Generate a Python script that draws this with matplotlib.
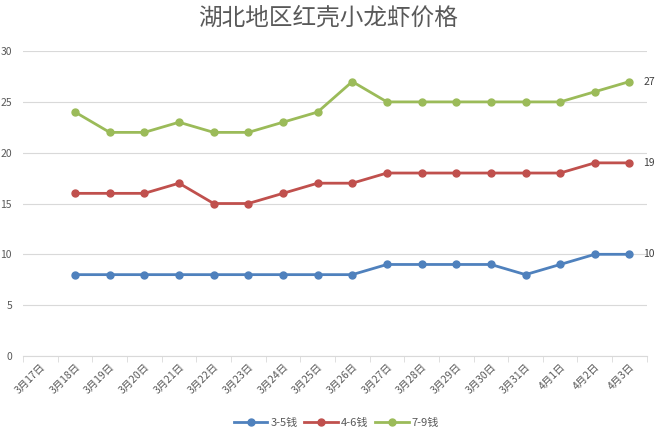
import matplotlib
matplotlib.use("Agg")
import matplotlib.pyplot as plt
import numpy as np

plt.rcParams['font.family'] = ['Noto Sans CJK SC', 'DejaVu Sans']

categories = ['3月17日', '3月18日', '3月19日', '3月20日', '3月21日', '3月22日', '3月23日',
              '3月24日', '3月25日', '3月26日', '3月27日', '3月28日', '3月29日', '3月30日',
              '3月31日', '4月1日', '4月2日', '4月3日']
s35 = [None, 8, 8, 8, 8, 8, 8, 8, 8, 8, 9, 9, 9, 9, 8, 9, 10, 10]
s46 = [None, 16, 16, 16, 17, 15, 15, 16, 17, 17, 18, 18, 18, 18, 18, 18, 19, 19]
s79 = [None, 24, 22, 22, 23, 22, 22, 23, 24, 27, 25, 25, 25, 25, 25, 25, 26, 27]
series_names = ['3-5钱', '4-6钱', '7-9钱']
colors = ['#4F81BD', '#C0504D', '#9BBB59']
title = '湖北地区红壳小龙虾价格'
yticks = [0, 5, 10, 15, 20, 25, 30]

fig = plt.figure(figsize=(6.6, 4.33), dpi=100)
ax = fig.add_axes([0.035, 0.178, 0.945, 0.704])

x = np.arange(len(categories))
for vals, name, c in zip([s35, s46, s79], series_names, colors):
    v = np.array([np.nan if a is None else a for a in vals], dtype=float)
    ax.plot(x, v, color=c, lw=2.0, marker='o', markersize=5, label=name,
            solid_joinstyle='round', zorder=3)
    ax.annotate(str(vals[-1]), (x[-1], vals[-1]), xytext=(10, 0),
                textcoords='offset points', ha='left', va='center',
                fontsize=7.5, color='#404040')

ax.set_xlim(-0.5, len(categories) - 0.5)
ax.set_ylim(0, 30)
ax.set_yticks(yticks)
ax.set_yticklabels([str(t) for t in yticks], fontsize=7.5, color='#595959')
ax.tick_params(axis='y', length=0, pad=8)
ax.grid(axis='y', color='#D9D9D9', lw=0.8)
ax.set_axisbelow(True)

ax.set_xticks(x)
ax.set_xticklabels(categories, rotation=45, ha='right', va='top',
                   rotation_mode='anchor', fontsize=7.5, color='#595959')
ax.tick_params(axis='x', which='major', length=0, pad=4)
ax.set_xticks(np.arange(-0.5, len(categories)), minor=True)
ax.tick_params(axis='x', which='minor', length=4, color='#D9D9D9')

for s in ['top', 'right', 'left']:
    ax.spines[s].set_visible(False)
ax.spines['bottom'].set_color('#D9D9D9')

fig.text(0.497, 0.958, title, ha='center', va='center', fontsize=17, color='#595959')

fig.legend(loc='center', bbox_to_anchor=(0.51, 0.023), ncol=3, frameon=False,
           fontsize=8, handlelength=3, columnspacing=0.6, handletextpad=0.3,
           labelcolor='#595959')

fig.savefig('out.png', dpi=100)
